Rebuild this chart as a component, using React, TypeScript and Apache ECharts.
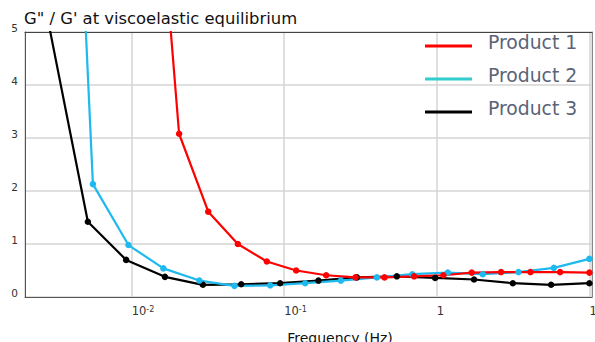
import React, { useEffect, useRef } from "react";
import * as echarts from "echarts";

const seriesNames = ["Product 1", "Product 2", "Product 3"];

const freq1 = [0.01315, 0.02046, 0.03177, 0.04966, 0.07691, 0.1197, 0.1884, 0.2931, 0.4539, 0.7096, 1.104, 1.694, 2.636, 4.111, 6.427, 10];
const val1 = [9.9, 3.08, 1.61, 1.0, 0.67, 0.5, 0.41, 0.37, 0.37, 0.39, 0.41, 0.46, 0.47, 0.47, 0.47, 0.46];

const freq2 = [0.003266, 0.005572, 0.009528, 0.01614, 0.0278, 0.0472, 0.0809, 0.1371, 0.235, 0.4046, 0.6918, 1.18, 2.0, 3.428, 5.848, 10];
const val2 = [16.6, 2.13, 0.98, 0.54, 0.31, 0.21, 0.22, 0.26, 0.31, 0.37, 0.43, 0.46, 0.43, 0.47, 0.55, 0.72];

const freq3 = [0.002884, 0.005164, 0.009204, 0.01652, 0.02931, 0.05224, 0.09397, 0.1675, 0.2992, 0.547, 0.975, 1.754, 3.148, 5.61, 10];
const val3 = [5.1, 1.42, 0.7, 0.38, 0.23, 0.24, 0.26, 0.31, 0.37, 0.39, 0.36, 0.33, 0.26, 0.23, 0.26];

const xTickLabels: Record<string, string> = {
  "-2": "{b|10}{s|-2}",
  "-1": "{b|10}{s|-1}",
  "0": "{b|1}",
  "1": "{b|10}",
};

const seriesColors = ["#ff0000", "#1db9ef", "#000000"];
const legendColors = ["#ff0000", "#33cccc", "#000000"];

const FONT = "DejaVu Sans";

export default function App() {
  const ref = useRef<HTMLDivElement>(null);
  useEffect(() => {
    if (!ref.current) return;
    const chart = echarts.init(ref.current, null, { renderer: "svg" });
    const datasets = [
      freq1.map((f, i) => [f, val1[i]]),
      freq2.map((f, i) => [f, val2[i]]),
      freq3.map((f, i) => [f, val3[i]]),
    ];
    const order = [2, 1, 0];
    chart.setOption({
      animation: false,
      title: {
        text: 'G" / G\' at viscoelastic equilibrium',
        left: 24,
        top: 10,
        padding: 0,
        textStyle: { fontFamily: FONT, fontSize: 16.4, fontWeight: "normal", color: "#111" },
      },
      legend: {
        orient: "vertical",
        left: 425,
        top: 33,
        padding: 0,
        itemWidth: 47,
        itemHeight: 3,
        itemGap: 14,
        icon: "rect",
        selectedMode: false,
        formatter: "{t|{name}}{sp| }",
        textStyle: {
          fontFamily: FONT,
          fontSize: 18.8,
          color: "#5a6377",
          padding: [0, 0, 0, 11],
          rich: {
            t: { fontFamily: FONT, fontSize: 18.8, color: "#5a6377", verticalAlign: "top" },
            sp: { fontFamily: FONT, fontSize: 1, lineHeight: 26 },
          },
        },
        data: seriesNames.map((n, i) => ({ name: n, itemStyle: { color: legendColors[i], borderWidth: 0 } })),
      },
      grid: {
        left: 25,
        right: 3,
        top: 32,
        bottom: 45,
        containLabel: false,
        outerBoundsMode: "none",
        show: false,
      },
      xAxis: [
        {
          type: "log",
          logBase: 10,
          min: 0.002,
          max: 10.4,
          name: "Frequency (Hz)",
          nameLocation: "middle",
          nameGap: 34,
          nameTextStyle: { fontFamily: FONT, fontSize: 14, color: "#111", padding: [0, 0, 0, 63] },
          axisLine: { show: true, lineStyle: { color: "#555", width: 1 } },
          axisTick: { show: false },
          splitLine: { show: true, lineStyle: { color: "#d4d4d4", width: 1.5 } },
          axisLabel: {
            align: "left",
            margin: 8,
            color: "#333",
            fontFamily: FONT,
            formatter: (v: number) => {
              const l = Math.log10(v);
              const r = Math.round(l);
              if (Math.abs(l - r) > 1e-6) return "";
              return xTickLabels[String(r)] ?? "";
            },
            rich: {
              b: { fontFamily: FONT, fontSize: 11.5, color: "#333" },
              s: { fontFamily: FONT, fontSize: 8, color: "#333", verticalAlign: "top" },
            },
          },
        },
        {
          type: "log",
          logBase: 10,
          min: 0.002,
          max: 10.4,
          position: "top",
          axisLine: { show: true, onZero: false, lineStyle: { color: "#444", width: 1 } },
          axisTick: { show: false },
          axisLabel: { show: false },
          splitLine: { show: false },
        },
      ],
      yAxis: [
        {
          type: "value",
          min: 0,
          max: 5,
          interval: 1,
          axisLine: { show: true, lineStyle: { color: "#555", width: 1 } },
          axisTick: { show: false },
          splitLine: { show: true, lineStyle: { color: "#d4d4d4", width: 1.5 } },
          axisLabel: {
            margin: 7,
            color: "#333",
            fontFamily: FONT,
            fontSize: 10.5,
            verticalAlign: "bottom",
            lineHeight: 8,
          },
        },
        {
          type: "value",
          min: 0,
          max: 5,
          interval: 1,
          position: "right",
          axisLine: { show: true, onZero: false, lineStyle: { color: "#888", width: 1 } },
          axisTick: { show: false },
          axisLabel: { show: false },
          splitLine: { show: false },
        },
      ],
      series: order.map((i) => ({
        name: seriesNames[i],
        type: "line",
        data: datasets[i],
        symbol: "circle",
        symbolSize: 6.5,
        showSymbol: true,
        clip: true,
        color: seriesColors[i],
        lineStyle: { color: seriesColors[i], width: 2.2 },
        itemStyle: { color: seriesColors[i], borderWidth: 0 },
      })),
    });
    return () => chart.dispose();
  }, []);
  return <div ref={ref} style={{ width: 595, height: 342, position: "absolute", left: 0, top: 0 }} />;
}
